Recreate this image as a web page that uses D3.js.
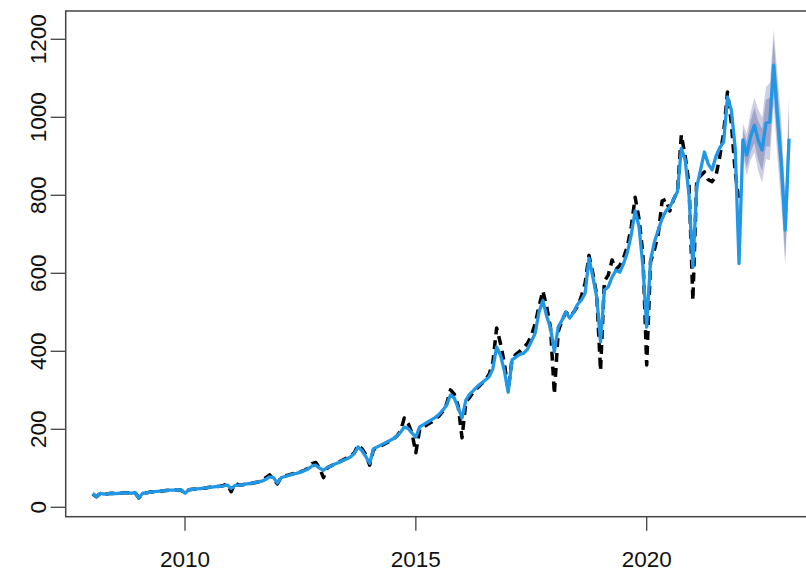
<!DOCTYPE html>
<html>
<head>
<meta charset="utf-8">
<script src="https://cdn.jsdelivr.net/npm/d3@7"></script>
<style>
  html, body { margin: 0; padding: 0; background: #fff; }
  svg { display: block; }
  text { font-family: "Liberation Sans", Arial, sans-serif; fill: #111; }
</style>
</head>
<body>
<svg id="chart" width="806" height="570"></svg>
<script>
// Monthly series, first value is January 2008
const startYear = 2008;

// Observed values, Jan 2008 – Jan 2022
const observed = [
  34, 27, 36, 34, 35, 36, 35, 36, 37, 37, 36, 38,            // 2008
  24, 36, 37, 39, 40, 41, 42, 43, 44, 44, 45, 44,            // 2009
  36, 45, 46, 47, 48, 49, 51, 52, 53, 54, 56, 60,            // 2010
  40, 62, 57, 58, 60, 61, 63, 65, 68, 76, 83, 72,            // 2011
  60, 77, 80, 83, 86, 88, 91, 95, 100, 112, 115, 100,        // 2012
  76, 102, 106, 112, 116, 121, 126, 131, 140, 160, 150, 135, // 2013
  108, 148, 152, 158, 163, 168, 174, 182, 195, 229, 215, 190, // 2014
  140, 200, 207, 212, 218, 226, 234, 246, 265, 301, 290, 260, // 2015
  178, 270, 282, 296, 306, 316, 326, 340, 370, 460, 420, 370, // 2016
  300, 380, 392, 400, 410, 420, 440, 470, 515, 555, 515, 460, // 2017
  290, 450, 480, 500, 490, 500, 515, 540, 575, 646, 600, 545, // 2018
  350, 580, 595, 634, 610, 620, 640, 670, 720, 795, 740, 650, // 2019
  365, 630, 660, 700, 785, 790, 760, 790, 810, 955, 900, 830, // 2020
  530, 840, 850, 860, 840, 835, 850, 900, 960, 1065, 985, 860, // 2021
  780                                                         // 2022
];

// Model fit over the same months
const fitted = [
  35, 27, 36, 34, 35, 36, 35, 36, 37, 37, 36, 38,
  24, 36, 37, 39, 40, 41, 42, 43, 44, 44, 45, 44,
  36, 45, 46, 47, 48, 49, 51, 52, 53, 54, 55, 57,
  48, 56, 57, 58, 60, 61, 63, 65, 67, 72, 78, 76,
  62, 76, 79, 82, 85, 87, 90, 94, 98, 106, 108, 100,
  95, 102, 106, 111, 115, 120, 124, 129, 138, 155, 145, 130,
  113, 150, 155, 160, 165, 170, 175, 182, 192, 206, 202, 190,
  180, 206, 212, 218, 224, 230, 238, 249, 262, 288, 280, 255,
  229, 275, 290, 300, 310, 318, 326, 334, 355, 411, 390, 350,
  295, 378, 385, 392, 395, 405, 425, 446, 500, 530, 490, 460,
  398, 462, 480, 500, 485, 500, 520, 531, 549, 639, 591, 540,
  424, 557, 565, 590, 608, 603, 625, 654, 700, 760, 720, 620,
  462, 634, 680, 711, 740, 760, 770, 790, 810, 920, 891, 800,
  616, 821, 865, 911, 880, 865, 900, 922, 937, 1052, 1019, 920,
  625
];

// Forecast, Feb 2022 – Feb 2023, with 80% and 95% intervals
const forecast = [942, 903, 950, 980, 940, 916, 985, 988, 1134, 1000, 880, 711, 945];
const lo80 = [915, 870, 910, 935, 890, 862, 925, 925, 1065, 930, 810, 640, 870];
const hi80 = [970, 938, 990, 1025, 990, 970, 1045, 1050, 1200, 1070, 950, 780, 1015];
const lo95 = [900, 850, 890, 910, 862, 832, 893, 890, 1030, 893, 773, 620, 830];
const hi95 = [985, 958, 1012, 1050, 1020, 1000, 1078, 1088, 1225, 1108, 988, 805, 1055];

const xTicks = [2010, 2015, 2020];
const yTicks = [0, 200, 400, 600, 800, 1000, 1200];

const svg = d3.select("#chart");

// Plot region
const plotL = 65.7, plotT = 11, plotB = 516.7, plotR = 817;

const x = d3.scaleLinear().domain([2010, 2020]).range([185, 646.7]);
const y = d3.scaleLinear().domain([0, 1200]).range([507.3, 39.3]);

const monthTime = i => startYear + i / 12;

const obsPts = observed.map((v, i) => [monthTime(i), v]);
const fitPts = fitted.map((v, i) => [monthTime(i), v]);
const n0 = fitted.length;
const fcPts = forecast.map((v, i) => [monthTime(n0 + i), v]);
const bluePts = fitPts.concat(fcPts);

const line = d3.line().x(d => x(d[0])).y(d => y(d[1]));

svg.append("clipPath").attr("id", "plotclip")
  .append("rect").attr("x", plotL).attr("y", plotT)
  .attr("width", plotR - plotL).attr("height", plotB - plotT);

const g = svg.append("g").attr("clip-path", "url(#plotclip)");

// Prediction intervals
const bandArea = (lo, hi) => d3.area()
  .x((d, i) => x(monthTime(n0 + i)))
  .y0((d, i) => y(lo[i]))
  .y1((d, i) => y(hi[i]));

g.append("path").datum(forecast)
  .attr("d", bandArea(lo95, hi95))
  .attr("fill", "#cdcfe4");
g.append("path").datum(forecast)
  .attr("d", bandArea(lo80, hi80))
  .attr("fill", "#a2a5ca");

// Observed series, dashed black
g.append("path").datum(obsPts)
  .attr("d", line)
  .attr("fill", "none")
  .attr("stroke", "#000")
  .attr("stroke-width", 3.5)
  .attr("stroke-dasharray", "9,6")
  .attr("stroke-linejoin", "round");

// Fitted values and forecast
g.append("path").datum(bluePts)
  .attr("d", line)
  .attr("fill", "none")
  .attr("stroke", "#2297E6")
  .attr("stroke-width", 3.3)
  .attr("stroke-linejoin", "round");

// Frame
svg.append("rect")
  .attr("x", plotL).attr("y", plotT)
  .attr("width", plotR - plotL).attr("height", plotB - plotT)
  .attr("fill", "none").attr("stroke", "#444").attr("stroke-width", 1.5);

// Left axis
const yAxis = svg.append("g");
yAxis.selectAll("line").data(yTicks).enter().append("line")
  .attr("x1", plotL - 15).attr("x2", plotL)
  .attr("y1", d => y(d)).attr("y2", d => y(d))
  .attr("stroke", "#444").attr("stroke-width", 1.3);
yAxis.selectAll("text").data(yTicks).enter().append("text")
  .attr("transform", d => `translate(45.5,${y(d)}) rotate(-90)`)
  .attr("text-anchor", "middle")
  .attr("font-size", 22.5)
  .text(d => d);

// Bottom axis
const xAxis = svg.append("g");
xAxis.selectAll("line").data(xTicks).enter().append("line")
  .attr("x1", d => x(d)).attr("x2", d => x(d))
  .attr("y1", plotB).attr("y2", plotB + 14)
  .attr("stroke", "#444").attr("stroke-width", 1.3);
xAxis.selectAll("text").data(xTicks).enter().append("text")
  .attr("x", d => x(d)).attr("y", 566.5)
  .attr("text-anchor", "middle")
  .attr("font-size", 22.5)
  .text(d => d);
</script>
</body>
</html>
